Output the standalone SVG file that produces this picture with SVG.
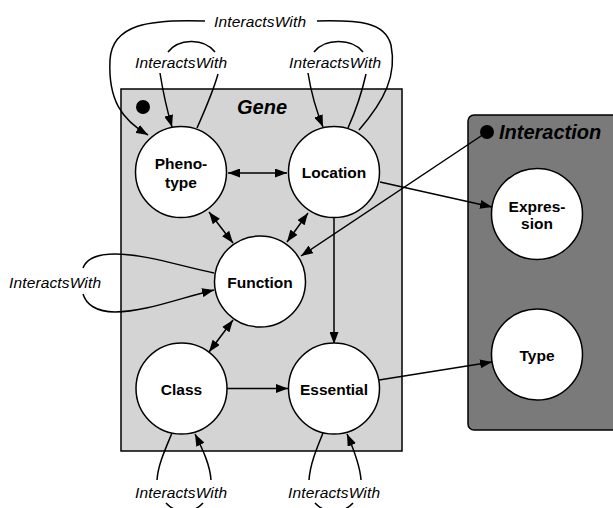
<svg xmlns="http://www.w3.org/2000/svg" width="613" height="508" viewBox="0 0 613 508">
<defs>
<marker id="ah" viewBox="0 0 12 9" refX="12" refY="4.5" markerWidth="12" markerHeight="9" markerUnits="userSpaceOnUse" orient="auto-start-reverse">
<path d="M0,0 L12,4.5 L0,9 z" fill="#000"/>
</marker>
</defs>
<style>
.plate{stroke:#000;stroke-width:1.5}
.node circle{fill:#fff;stroke:#000;stroke-width:1.5}
.lbl{font-family:"Liberation Sans",Arial,sans-serif;font-weight:bold;font-size:15.5px;text-anchor:middle;fill:#000}
.ptitle{font-family:"Liberation Sans",Arial,sans-serif;font-weight:bold;font-style:italic;font-size:20px;fill:#000}
.iw{font-family:"Liberation Sans",Arial,sans-serif;font-style:italic;font-size:15.5px;text-anchor:middle;fill:#000}
#edges path{fill:none;stroke:#000;stroke-width:1.5}
.a{marker-end:url(#ah)}
.d{marker-start:url(#ah);marker-end:url(#ah)}
</style>
<rect width="613" height="508" fill="#fff"/>
<g id="plate-gene">
<rect class="plate" x="121" y="89" width="281" height="362" fill="#d4d4d4"/>
<circle cx="143" cy="107" r="7" fill="#000"/>
<text class="ptitle" x="262" y="114" text-anchor="middle">Gene</text>
</g>
<g id="plate-interaction">
<rect class="plate" x="468" y="115" width="160" height="315" rx="6" fill="#7a7a7a"/>
<circle cx="487" cy="132" r="7" fill="#000"/>
<text class="ptitle" x="499" y="139">Interaction</text>
</g>
<g id="edges">
<path class="d" d="M228,173 L287,173"/>
<path class="d" d="M209,212 L233,243"/>
<path class="d" d="M308,213 L287,242"/>
<path class="d" d="M233,320 L209,352"/>
<path class="a" d="M334,218 L334,344"/>
<path class="a" d="M227,388.5 L288,388.5"/>
<path class="a" d="M380,182 L492,207"/>
<path class="a" d="M379,380 L492,362"/>
<path class="a" d="M487,132 L301,256"/>
<path class="a" d="M205,21 C150,19 112,24 110,60 C108,100 122,120 148,135"/>
<path d="M317,21 C360,20 385,22 391,45 C397,75 385,100 359,130"/>
<path class="a" d="M160,73 C163,92 167,110 172,127"/>
<path d="M197,128 C205,110 213,92 218,74"/>
<path d="M168,52 C178,39 203,37 215,52"/>
<path class="a" d="M308,73 C311,92 316,110 323,127"/>
<path d="M348,128 C356,110 362,92 366,74"/>
<path d="M314,52 C325,38 352,38 363,52"/>
<path d="M214,273 C180,266 145,254 115,254 C96,254 86,260 83,268"/>
<path class="a" d="M83,294 C86,304 96,312 115,312 C145,312 180,298 214,290"/>
<path d="M172,433 C165,450 158,465 157,480"/>
<path class="a" d="M211,480 C210,465 203,450 195,434"/>
<path d="M166,503 C176,514 193,514 203,503"/>
<path d="M323,433 C316,450 310,465 309,480"/>
<path class="a" d="M361,480 C360,465 354,450 347,434"/>
<path d="M315,503 C325,514 343,514 353,503"/>
</g>
<g id="label-edges">
<text class="iw" x="260" y="27" textLength="92" lengthAdjust="spacing">InteractsWith</text>
<text class="iw" x="181" y="68" textLength="92" lengthAdjust="spacing">InteractsWith</text>
<text class="iw" x="335" y="68" textLength="92" lengthAdjust="spacing">InteractsWith</text>
<text class="iw" x="55" y="288" textLength="92" lengthAdjust="spacing">InteractsWith</text>
<text class="iw" x="181" y="498" textLength="92" lengthAdjust="spacing">InteractsWith</text>
<text class="iw" x="334" y="498" textLength="92" lengthAdjust="spacing">InteractsWith</text>
</g>
<g id="node-phenotype" class="node">
<circle cx="181" cy="172" r="45.5"/>
<text class="lbl" x="181" y="169">Pheno-</text>
<text class="lbl" x="181" y="188">type</text>
</g>
<g id="node-location" class="node">
<circle cx="334" cy="172" r="45.5"/>
<text class="lbl" x="334" y="178">Location</text>
</g>
<g id="node-function" class="node">
<circle cx="260" cy="281.5" r="45.5"/>
<text class="lbl" x="260" y="288">Function</text>
</g>
<g id="node-class" class="node">
<circle cx="181.5" cy="388.5" r="45.5"/>
<text class="lbl" x="181.5" y="395">Class</text>
</g>
<g id="node-essential" class="node">
<circle cx="334" cy="388.5" r="45.5"/>
<text class="lbl" x="334" y="395">Essential</text>
</g>
<g id="node-expression" class="node">
<circle cx="537" cy="214" r="45.5"/>
<text class="lbl" x="537" y="212">Expres-</text>
<text class="lbl" x="537" y="229">sion</text>
</g>
<g id="node-type" class="node">
<circle cx="537" cy="354.5" r="45.5"/>
<text class="lbl" x="537" y="361">Type</text>
</g>
</svg>
